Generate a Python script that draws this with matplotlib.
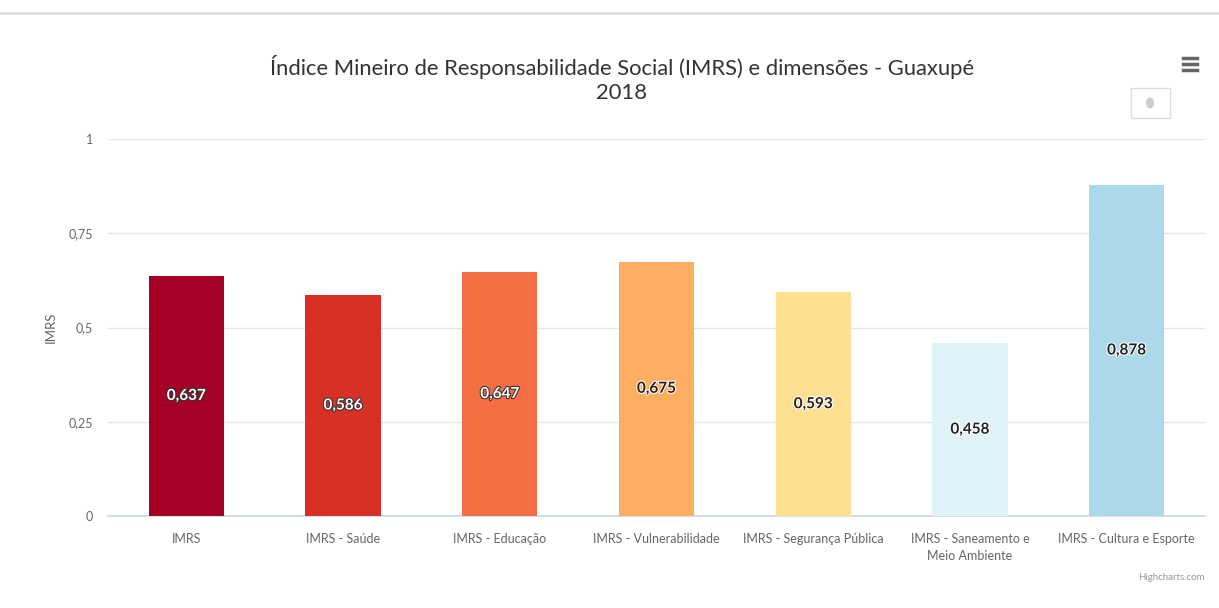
import matplotlib
matplotlib.use('Agg')
import matplotlib.pyplot as plt
import matplotlib.patheffects as pe
from matplotlib.patches import Rectangle, Ellipse
from matplotlib.lines import Line2D

plt.rcParams['font.family'] = ['Lato', 'DejaVu Sans']

# Data
categories = ['IMRS', 'IMRS - Saúde', 'IMRS - Educação', 'IMRS - Vulnerabilidade',
              'IMRS - Segurança Pública', 'IMRS - Saneamento e\nMeio Ambiente',
              'IMRS - Cultura e Esporte']
values = [0.637, 0.586, 0.647, 0.675, 0.593, 0.458, 0.878]
colors = ['#a50026', '#d73027', '#f46d43', '#fdae61', '#fee090', '#e0f3f8', '#abd9e9']
label_colors = ['white', 'white', 'white', '#2a1a10', '#222222', '#222222', '#222222']
yticks = [0, 0.25, 0.5, 0.75, 1]
ytick_labels = ['0', '0,25', '0,5', '0,75', '1']

fig = plt.figure(figsize=(12.19, 6.08), dpi=100)
ax = fig.add_axes([108 / 1219, 1 - 516 / 608, (1205 - 108) / 1219, (516 - 139) / 608])

x = range(len(categories))
bars = ax.bar(x, values, width=0.48, color=colors, zorder=3)

# value labels in the middle of each bar
for xi, v, lc in zip(x, values, label_colors):
    outline = '#333333' if lc == 'white' else 'white'
    ax.text(xi, v / 2, f'{v:.3f}'.replace('.', ','), ha='center', va='center',
            fontsize=11, fontweight='bold', color=lc, zorder=4,
            path_effects=[pe.withStroke(linewidth=1.5, foreground=outline)])

ax.set_ylim(0, 1)
ax.set_xlim(-0.5, len(categories) - 0.5)
ax.set_yticks(yticks)
ax.set_yticklabels(ytick_labels, fontsize=9, color='#666666')
ax.set_xticks(list(x))
ax.set_xticklabels(categories, fontsize=9, color='#666666', linespacing=1.5)
ax.tick_params(axis='both', length=0)
ax.tick_params(axis='y', pad=11)
ax.tick_params(axis='x', pad=12)
ax.set_ylabel('IMRS', fontsize=9.5, color='#666666', labelpad=8)
ax.grid(axis='y', color='#e6e6e6', linewidth=1, zorder=0)
for s in ['top', 'right', 'left']:
    ax.spines[s].set_visible(False)
ax.spines['bottom'].set_color('#ccd6eb')
ax.spines['bottom'].set_linewidth(1.2)

# title
fig.text(622 / 1219, 1 - 67 / 608, 'Índice Mineiro de Responsabilidade Social (IMRS) e dimensões - Guaxupé',
         ha='center', va='center', fontsize=15.8, color='#333333')
fig.text(622 / 1219, 1 - 93 / 608, '2018', ha='center', va='center', fontsize=15.8, color='#333333')

# credits
fig.text(1205 / 1219, 1 - 578 / 608, 'Highcharts.com', ha='right', va='center', fontsize=7, color='#999999')

# top border line
fig.add_artist(Line2D([0, 1], [1 - 13 / 608, 1 - 13 / 608], color='#dddddd', linewidth=2))

# hamburger menu icon
for yy in [58, 64, 70]:
    fig.add_artist(Line2D([1183 / 1219, 1197 / 1219], [1 - yy / 608, 1 - yy / 608],
                          color='#666666', linewidth=2.5))

# small box with dot
fig.add_artist(Rectangle((1131 / 1219, 1 - 118 / 608), 39 / 1219, 30 / 608,
                         facecolor='white', edgecolor='#dddddd', linewidth=1))
fig.add_artist(Ellipse((1150 / 1219, 1 - 103 / 608), 8 / 1219, 11 / 608,
                       facecolor='#cccccc', edgecolor='none'))

fig.savefig('out.png', dpi=100)
